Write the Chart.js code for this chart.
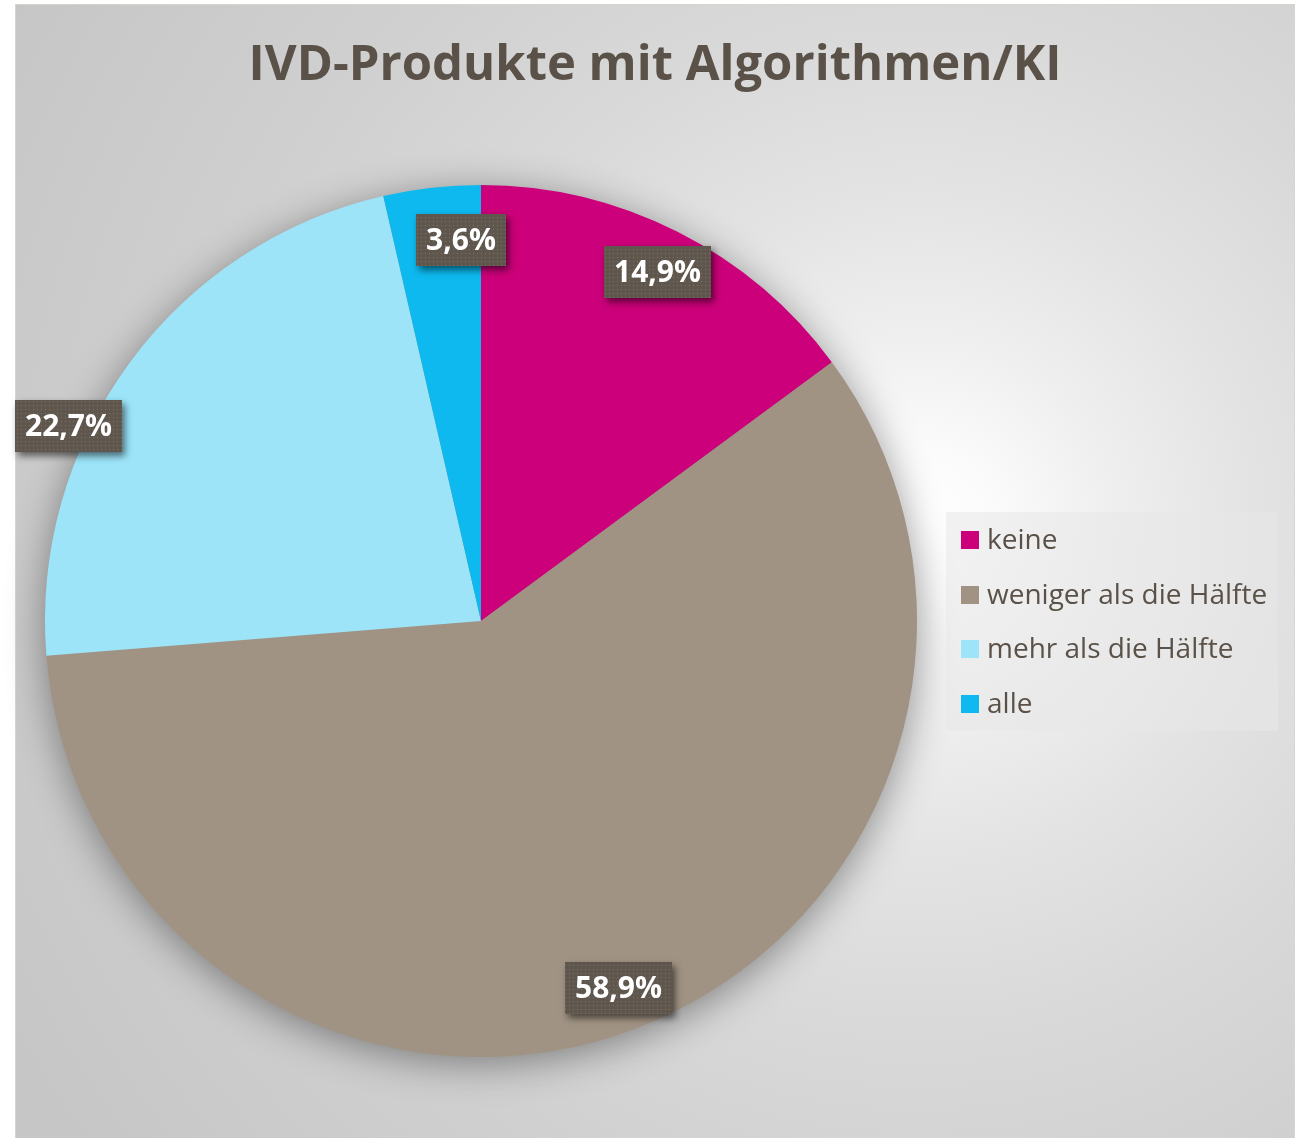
<!DOCTYPE html>
<html lang="de">
<head>
<meta charset="utf-8">
<title>IVD-Produkte mit Algorithmen/KI</title>
<script src="https://cdn.jsdelivr.net/npm/chart.js@4.4.1/dist/chart.umd.min.js"></script>
<style>
  html, body { margin: 0; padding: 0; background: #ffffff; }
  body { width: 1304px; height: 1138px; position: relative; overflow: hidden; }
  #panel {
    position: absolute; left: 15px; top: 4px; width: 1278px; height: 1140px;
    border: 1px solid #d8d5cf;
    background: radial-gradient(circle 1050px at 905px 520px,
      #ffffff 0%, #fbfbfb 7%, #efefef 18%, #e3e3e3 32%, #d9d9d9 48%, #d0d0d0 68%, #c6c6c6 100%);
  }
  #chart { position: absolute; left: 0; top: 0; }
  #title {
    position: absolute; left: 15px; width: 1280px; top: 31px; margin: 0;
    text-align: center; font-family: "Open Sans", sans-serif; font-weight: bold;
    font-size: 49px; line-height: 60px; color: #5a5148; white-space: nowrap;
  }
  #legend {
    position: absolute; left: 946px; top: 512px; width: 332px; height: 219px;
    background: rgba(232, 232, 232, 0.55);
    font-family: "Open Sans", sans-serif; font-size: 28px; color: #5a5148;
  }
  #legend .item { position: absolute; left: 15px; height: 36px; line-height: 36px; white-space: nowrap; }
  #legend .sw { position: absolute; left: 0; top: 9px; width: 18px; height: 18px; }
  #legend .tx { position: absolute; left: 26px; top: -2px; }
</style>
</head>
<body>
<div id="panel"></div>
<canvas id="chart" width="1304" height="1138"></canvas>
<h1 id="title"></h1>
<div id="legend"></div>
<script>
// ---- data ----
const titleText = "IVD-Produkte mit Algorithmen/KI";
const categories = ["keine", "weniger als die Hälfte", "mehr als die Hälfte", "alle"];
const shares = [14.9, 58.9, 22.7, 3.6];
const sliceColors = ["#cc007a", "#a09383", "#9de4f9", "#0db9ee"];
// label placement (style): radial factor of the radius and angular shift (degrees)
const labelRadius = [0.896, 0.899, 1.047, 0.876];
const labelShift = [0, 0, -10.9, 3.5];

const fmt = v => v.toFixed(1).replace(".", ",") + "%";

document.getElementById("title").textContent = titleText;

// dotted pattern for label boxes
function makePattern(ctx) {
  const c = document.createElement("canvas");
  c.width = 4; c.height = 4;
  const p = c.getContext("2d");
  p.fillStyle = "#5f564d"; p.fillRect(0, 0, 4, 4);
  p.fillStyle = "#7b7268"; p.fillRect(1, 1, 1, 1);
  return ctx.createPattern(c, "repeat");
}

const pieShadow = {
  id: "pieShadow",
  beforeDatasetsDraw(chart) {
    const arc = chart.getDatasetMeta(0).data[0];
    if (!arc) return;
    const { x, y, outerRadius } = arc.getProps(["x", "y", "outerRadius"], true);
    const ctx = chart.ctx;
    ctx.save();
    ctx.shadowColor = "rgba(0,0,0,0.42)";
    ctx.shadowBlur = 40;
    ctx.shadowOffsetX = 0;
    ctx.shadowOffsetY = 7;
    ctx.fillStyle = "#a09383";
    ctx.beginPath();
    ctx.arc(x, y, outerRadius - 1, 0, Math.PI * 2);
    ctx.fill();
    ctx.restore();
  }
};

const boxLabels = {
  id: "boxLabels",
  afterDatasetsDraw(chart) {
    const ctx = chart.ctx;
    const meta = chart.getDatasetMeta(0);
    const pattern = makePattern(ctx);
    ctx.save();
    ctx.font = "bold 30px 'Open Sans', sans-serif";
    ctx.textAlign = "center";
    ctx.textBaseline = "middle";
    meta.data.forEach((arc, i) => {
      const p = arc.getProps(["x", "y", "startAngle", "endAngle", "outerRadius"], true);
      const mid = (p.startAngle + p.endAngle) / 2 + labelShift[i] * Math.PI / 180;
      const r = p.outerRadius * labelRadius[i];
      const cx = p.x + Math.cos(mid) * r;
      const cy = p.y + Math.sin(mid) * r;
      const txt = fmt(chart.data.datasets[0].data[i]);
      const w = ctx.measureText(txt).width + 20;
      const h = 52;
      const bx = Math.round(cx - w / 2), by = Math.round(cy - h / 2), bw = Math.round(w);
      ctx.save();
      ctx.shadowColor = "rgba(0,0,0,0.55)";
      ctx.shadowBlur = 7;
      ctx.shadowOffsetX = 3;
      ctx.shadowOffsetY = 4;
      ctx.fillStyle = "#5f564d";
      ctx.fillRect(bx, by, bw, h);
      ctx.restore();
      ctx.fillStyle = pattern;
      ctx.fillRect(bx, by, bw, h);
      ctx.fillStyle = "#ffffff";
      ctx.fillText(txt, bx + bw / 2, by + h / 2 + 1);
    });
    ctx.restore();
  }
};

new Chart(document.getElementById("chart"), {
  type: "pie",
  data: {
    labels: categories,
    datasets: [{
      data: shares,
      backgroundColor: sliceColors,
      borderWidth: 0,
      hoverBorderWidth: 0,
      offset: 0,
      hoverOffset: 0
    }]
  },
  options: {
    responsive: false,
    devicePixelRatio: 1,
    animation: false,
    events: [],
    layout: { padding: { left: 45, right: 387, top: 185, bottom: 81 } },
    plugins: {
      legend: { display: false },
      tooltip: { enabled: false },
      title: { display: false }
    }
  },
  plugins: [pieShadow, boxLabels]
});

// HTML legend built from the data arrays
const legend = document.getElementById("legend");
categories.forEach((c, i) => {
  const item = document.createElement("div");
  item.className = "item";
  item.style.top = (10 + i * 54.5) + "px";
  const sw = document.createElement("span");
  sw.className = "sw";
  sw.style.background = sliceColors[i];
  const tx = document.createElement("span");
  tx.className = "tx";
  tx.textContent = c;
  item.appendChild(sw); item.appendChild(tx);
  legend.appendChild(item);
});
</script>
</body>
</html>
